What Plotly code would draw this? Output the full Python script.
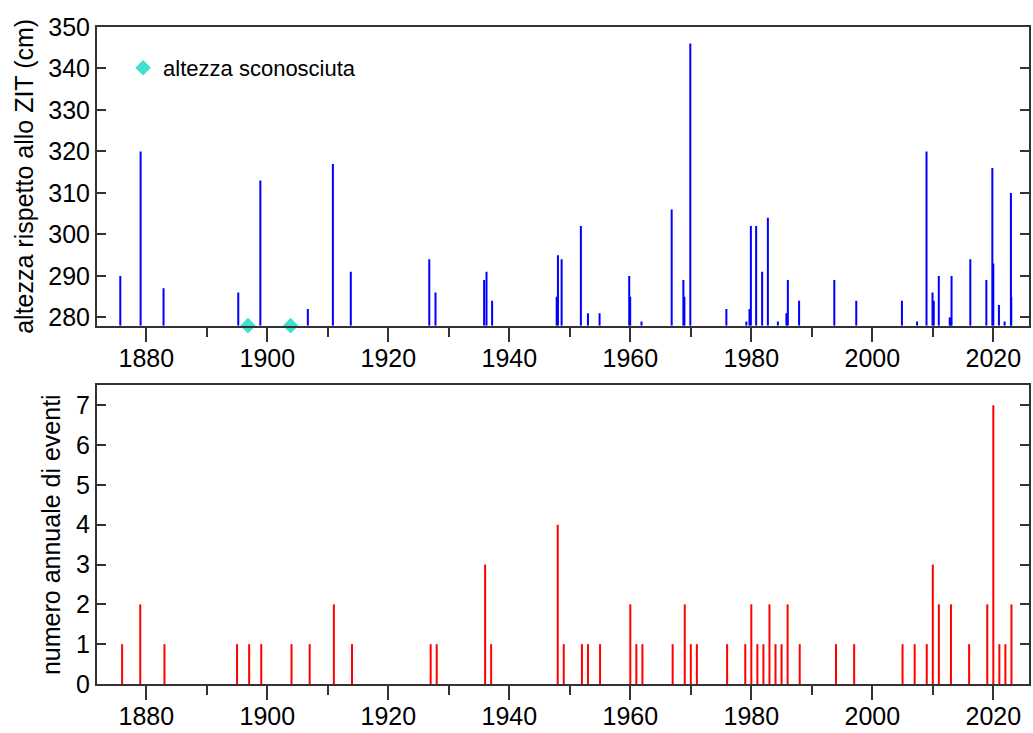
import plotly.graph_objects as go

# ---- Data ----
# Top panel: events with known height (fractional year, height in cm w.r.t. ZIT)
event_dates = [1875.7, 1879.06, 1882.85, 1895.2, 1898.85, 1906.7, 1910.84, 1913.8,
               1926.77, 1927.8, 1935.84, 1936.23, 1937.16, 1947.83, 1948.04, 1948.65,
               1951.83, 1953.0, 1954.92, 1959.82, 1959.98, 1961.85, 1966.84, 1968.77,
               1968.94, 1969.92, 1975.88, 1979.18, 1979.7, 1979.93, 1980.8, 1981.79,
               1982.74, 1984.39, 1985.8, 1986.04, 1987.9, 1993.72, 1997.35, 2004.9,
               2007.4, 2008.96, 2009.95, 2010.16, 2010.99, 2012.8, 2012.96, 2013.1,
               2016.2, 2018.85, 2019.84, 2020.0, 2020.93, 2021.87, 2022.91, 2022.97]
event_heights = [290, 320, 287, 286, 313, 282, 317, 291,
                 294, 286, 289, 291, 284, 285, 295, 294,
                 302, 281, 281, 290, 285, 279, 306, 289,
                 285, 346, 282, 279, 282, 302, 302, 291,
                 304, 279, 281, 289, 284, 289, 284, 284,
                 279, 320, 286, 284, 290, 280, 280, 290,
                 294, 289, 316, 293, 283, 279, 310, 285]
unknown_dates = [1896.8, 1903.85]
baseline_cm = 278

# Bottom panel: annual number of events
count_years = [1876, 1879, 1883, 1895, 1897, 1899, 1904, 1907, 1911, 1914, 1927, 1928,
               1936, 1937, 1948, 1949, 1952, 1953, 1955, 1960, 1961, 1962, 1967, 1969,
               1970, 1971, 1976, 1979, 1980, 1981, 1982, 1983, 1984, 1985, 1986, 1988,
               1994, 1997, 2005, 2007, 2009, 2010, 2011, 2013, 2016, 2019, 2020, 2021,
               2022, 2023]
count_values = [1, 2, 1, 1, 1, 1, 1, 1, 2, 1, 1, 1,
                3, 1, 4, 1, 1, 1, 1, 2, 1, 1, 1, 2,
                1, 1, 1, 1, 2, 1, 1, 2, 1, 1, 2, 1,
                1, 1, 1, 1, 1, 3, 2, 2, 1, 2, 7, 1,
                1, 2]

top_title = "altezza rispetto allo ZIT (cm)"
bottom_title = "numero annuale di eventi"
legend_label = "altezza sconosciuta"


def stems(xs, ys, base):
    sx, sy = [], []
    for x, y in zip(xs, ys):
        sx += [x, x, None]
        sy += [base, y, None]
    return sx, sy


FONT = "Liberation Sans, Arial, sans-serif"
AX = "#333333"

fig = go.Figure()

tx, ty = stems(event_dates, event_heights, baseline_cm)
fig.add_trace(go.Scatter(x=tx, y=ty, mode="lines", line=dict(color="#0000FF", width=2),
                         xaxis="x", yaxis="y", showlegend=False, hoverinfo="skip"))
fig.add_trace(go.Scatter(x=unknown_dates, y=[baseline_cm] * len(unknown_dates), mode="markers",
                         marker=dict(symbol="diamond", size=12, color="#40E0D0"),
                         name=legend_label, xaxis="x", yaxis="y", cliponaxis=False,
                         showlegend=True))

bx, by = stems(count_years, count_values, 0)
fig.add_trace(go.Scatter(x=bx, y=by, mode="lines", line=dict(color="#FF0000", width=2),
                         xaxis="x2", yaxis="y2", showlegend=False, hoverinfo="skip"))

xcommon = dict(range=[1871.85, 2025.9], tickmode="linear", tick0=1880, dtick=20,
               ticks="outside", ticklen=14, tickwidth=2, tickcolor=AX,
               minor=dict(dtick=10, tick0=1880, ticks="outside", ticklen=9, tickwidth=2, tickcolor=AX),
               showline=True, linewidth=2, linecolor=AX, mirror=True,
               showgrid=False, zeroline=False, ticklabelstandoff=-5,
               tickfont=dict(size=25, color="black", family=FONT))
ycommon = dict(ticks="inside", ticklen=9, tickwidth=2, tickcolor=AX,
               showline=True, linewidth=2, linecolor=AX, mirror="ticks",
               showgrid=False, zeroline=False,
               tickfont=dict(size=25, color="black", family=FONT))

fig.update_layout(
    width=1033, height=733,
    margin=dict(l=97, r=2, t=27, b=49),
    paper_bgcolor="white", plot_bgcolor="white",
    font=dict(family=FONT, color="black", size=24),
    xaxis=dict(domain=[0, 1], anchor="y", **xcommon),
    yaxis=dict(domain=[0.5454, 1], anchor="x", range=[278, 350], tickmode="linear",
               tick0=280, dtick=10,
               title=dict(text=top_title, font=dict(size=25, family=FONT), standoff=8),
               **ycommon),
    xaxis2=dict(domain=[0, 1], anchor="y2", **xcommon),
    yaxis2=dict(domain=[0, 0.4545], anchor="x2", range=[0, 7.5], tickmode="linear",
                tick0=0, dtick=1,
                title=dict(text=bottom_title, font=dict(size=25, family=FONT), standoff=8),
                **ycommon),
    legend=dict(x=0.028, y=0.9376, xanchor="left", yanchor="middle",
                bgcolor="rgba(0,0,0,0)", font=dict(size=22, family=FONT, color="black")),
)

fig.write_html("out.html", config={"displayModeBar": False},
               post_script="document.body.style.margin='0px';document.body.style.overflow='hidden';")
